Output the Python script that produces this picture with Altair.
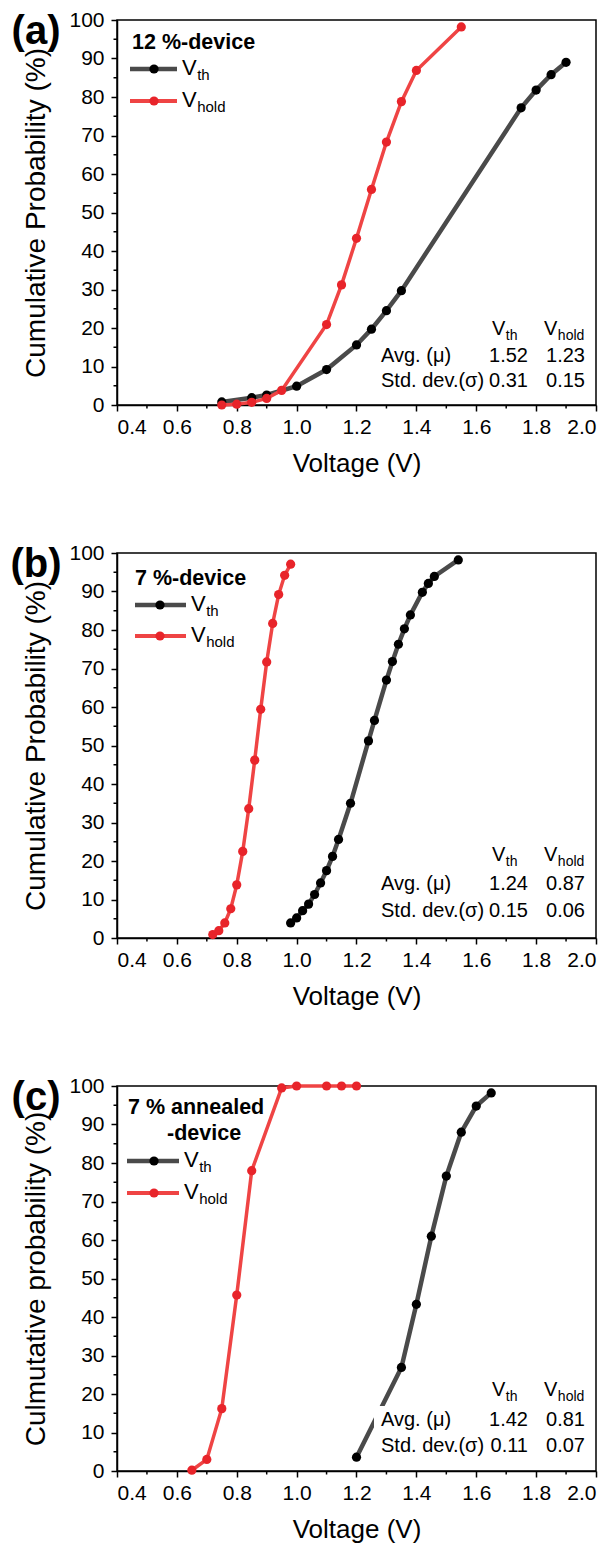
import altair as alt
import pandas as pd

# ---------------- data ----------------
a_vth_v = [0.75, 0.85, 0.90, 1.00, 1.10, 1.20, 1.25, 1.30, 1.35, 1.75, 1.80, 1.85, 1.90]
a_vth_p = [0.8, 1.9, 2.6, 4.9, 9.2, 15.6, 19.7, 24.5, 29.7, 77.2, 81.8, 85.8, 89.0]
a_vhold_v = [0.75, 0.80, 0.85, 0.90, 0.95, 1.10, 1.15, 1.20, 1.25, 1.30, 1.35, 1.40, 1.55]
a_vhold_p = [0.0, 0.2, 0.7, 1.7, 3.8, 20.9, 31.2, 43.3, 56.0, 68.3, 78.8, 86.9, 98.2]

b_vth_v = [0.98, 1.00, 1.02, 1.04, 1.06, 1.08, 1.10, 1.12, 1.14, 1.18, 1.24, 1.26, 1.30,
           1.32, 1.34, 1.36, 1.38, 1.42, 1.44, 1.46, 1.54]
b_vth_p = [3.9, 5.2, 7.1, 8.8, 11.3, 14.3, 17.5, 21.2, 25.6, 35.0, 51.2, 56.5, 67.0,
           71.8, 76.3, 80.3, 83.9, 89.8, 92.1, 93.9, 98.2]
b_vhold_v = [0.72, 0.74, 0.76, 0.78, 0.80, 0.82, 0.84, 0.86, 0.88, 0.90, 0.92, 0.94, 0.96, 0.98]
b_vhold_p = [0.9, 1.9, 3.9, 7.6, 13.8, 22.5, 33.6, 46.2, 59.4, 71.7, 81.7, 89.2, 94.2, 97.1]

c_vth_v = [1.20, 1.35, 1.40, 1.45, 1.50, 1.55, 1.60, 1.65]
c_vth_p = [3.6, 26.9, 43.3, 61.0, 76.6, 88.0, 94.8, 98.2]
c_vhold_v = [0.65, 0.70, 0.75, 0.80, 0.85, 0.95, 1.00, 1.10, 1.15, 1.20]
c_vhold_p = [0.2, 3.0, 16.2, 45.7, 78.0, 99.5, 100, 100, 100, 100]

panel_letters = ["(a)", "(b)", "(c)"]
device_labels = [["12 %-device"], ["7 %-device"], ["7 % annealed", "-device"]]
y_titles = ["Cumulative Probability (%)", "Cumulative Probability (%)",
            "Culmutative probability (%)"]
avg_vals = [(1.52, 1.23), (1.24, 0.87), (1.42, 0.81)]
std_vals = [(0.31, 0.15), (0.15, 0.06), (0.11, 0.07)]

x_ticks = [0.4, 0.6, 0.8, 1.0, 1.2, 1.4, 1.6, 1.8, 2.0]
x_minor = [0.5, 0.7, 0.9, 1.1, 1.3, 1.5, 1.7, 1.9]
y_ticks = [0, 10, 20, 30, 40, 50, 60, 70, 80, 90, 100]
y_minor = [5, 15, 25, 35, 45, 55, 65, 75, 85, 95]

# ---------------- style ----------------
W, H = 479, 385
FONT = "Liberation Sans"
BLACK_LINE = "#4a4a4a"
BLACK_PT = "#000000"
RED_LINE = "#ef4444"
RED_PT = "#e8242a"
PT_SIZE = 85


def sub_text(x, y, main, sub, size=21, subsize=14):
    vw = 0.667 * size
    return [
        alt.Chart().mark_text(text=main, font=FONT, fontSize=size, align="left",
                              baseline="middle", color="black")
        .encode(x=alt.value(x), y=alt.value(y)),
        alt.Chart().mark_text(text=sub, font=FONT, fontSize=subsize, align="left",
                              baseline="middle", color="black")
        .encode(x=alt.value(x + vw + 0.5), y=alt.value(y + 7)),
    ]


def panel(i, vth_v, vth_p, vh_v, vh_p, leg, tab, box=False):
    xs = alt.Scale(domain=[0.4, 2.0], nice=False, zero=False)
    ys = alt.Scale(domain=[0, 100], nice=False)
    xaxis = alt.Axis(values=x_ticks, format=".1f", title="Voltage (V)",
                     titleFontSize=26, titlePadding=13, grid=False)
    yaxis = alt.Axis(values=y_ticks, format="d", title=y_titles[i],
                     titleFontSize=28, titlePadding=18, labelPadding=7, grid=False)
    X = alt.X("V:Q", scale=xs, axis=xaxis)
    Y = alt.Y("P:Q", scale=ys, axis=yaxis)

    dth = pd.DataFrame({"V": vth_v, "P": vth_p})
    dh = pd.DataFrame({"V": vh_v, "P": vh_p})
    layers = [
        alt.Chart(dth).mark_line(color=BLACK_LINE, strokeWidth=4.5).encode(x=X, y=Y),
        alt.Chart(dth).mark_point(filled=True, opacity=1, color=BLACK_PT, size=PT_SIZE).encode(x=X, y=Y),
        alt.Chart(dh).mark_line(color=RED_LINE, strokeWidth=3.5).encode(x=X, y=Y),
        alt.Chart(dh).mark_point(filled=True, opacity=1, color=RED_PT, size=PT_SIZE).encode(x=X, y=Y),
        # minor ticks
        alt.Chart(pd.DataFrame({"V": x_minor})).mark_rule(color="black", strokeWidth=1.5)
        .encode(x=X, y=alt.value(H), y2=alt.value(H + 3.5)),
        alt.Chart(pd.DataFrame({"P": y_minor})).mark_rule(color="black", strokeWidth=1.5)
        .encode(y=Y, x=alt.value(0), x2=alt.value(-3.5)),
    ]

    # legend
    for txt, tx, ty, al in leg["title"]:
        layers.append(alt.Chart().mark_text(text=txt, font=FONT, fontSize=21.5, fontWeight="bold",
                                            align=al, baseline="middle", color="black")
                      .encode(x=alt.value(tx), y=alt.value(ty)))
    lx0, lx1, px, vx = leg["x"]
    for yy, lc, pc, lw, sub in [(leg["y"][0], BLACK_LINE, BLACK_PT, 4.5, "th"),
                                (leg["y"][1], RED_LINE, RED_PT, 4.0, "hold")]:
        layers.append(alt.Chart().mark_rule(color=lc, strokeWidth=lw)
                      .encode(x=alt.value(lx0), x2=alt.value(lx1), y=alt.value(yy)))
        layers.append(alt.Chart().mark_point(filled=True, opacity=1, color=pc, size=PT_SIZE)
                      .encode(x=alt.value(px), y=alt.value(yy)))
        layers += sub_text(vx, yy - 1, "V", sub, size=22, subsize=15)

    if box:
        layers.append(alt.Chart().mark_rect(color="white")
                      .encode(x=alt.value(257), x2=alt.value(474),
                              y=alt.value(tab[1] - 14), y2=alt.value(tab[2] + 12)))

    # stats table
    hy, ay, sy = tab
    layers += sub_text(375, hy, "V", "th", size=20, subsize=14)
    layers += sub_text(427, hy, "V", "hold", size=20, subsize=14)
    for txt, yy in [("Avg. (\u03bc)", ay), ("Std. dev.(\u03c3)", sy)]:
        layers.append(alt.Chart().mark_text(text=txt, font=FONT, fontSize=20, align="left",
                                            baseline="middle", color="black")
                      .encode(x=alt.value(264), y=alt.value(yy)))
    for vals, yy in [(avg_vals[i], ay), (std_vals[i], sy)]:
        for val, xr in zip(vals, (411, 468)):
            layers.append(alt.Chart().mark_text(text=f"{val:.2f}", font=FONT, fontSize=20,
                                                align="right", baseline="middle", color="black")
                          .encode(x=alt.value(xr), y=alt.value(yy)))

    # panel letter
    layers.append(alt.Chart().mark_text(text=panel_letters[i], font=FONT, fontSize=40,
                                        fontWeight="bold", align="center", baseline="middle",
                                        color="black")
                  .encode(x=alt.value(-81), y=alt.value(12)))

    return alt.layer(*layers).properties(width=W, height=H)


pa = panel(0, a_vth_v, a_vth_p, a_vhold_v, a_vhold_p,
           {"title": [(device_labels[0][0], 15, 23, "left")], "x": (13, 60, 37, 65), "y": (49, 81)},
           (309, 336, 361))
pb = panel(1, b_vth_v, b_vth_p, b_vhold_v, b_vhold_p,
           {"title": [(device_labels[1][0], 18, 26, "left")], "x": (18, 69, 43, 74), "y": (52, 83)},
           (302, 331, 358))
pc = panel(2, c_vth_v, c_vth_p, c_vhold_v, c_vhold_p,
           {"title": [(device_labels[2][0], 11, 22, "left"), (device_labels[2][1], 50, 48, "left")],
            "x": (10, 62, 37, 67), "y": (75, 107)},
           (304, 334, 360), box=True)

top = alt.vconcat(pa, pb, spacing=64)
chart = alt.vconcat(top, pc, spacing=64).properties(
    padding={"left": 1, "top": 0, "right": 0, "bottom": 0},
    background="white"
).configure_view(
    stroke="black", strokeWidth=1.5
).configure_axis(
    domainColor="black", domainWidth=1.5, tickColor="black", tickWidth=1.5, tickSize=6,
    labelFontSize=21, labelColor="black", labelFont=FONT, titleFont=FONT,
    titleFontWeight="normal", titleColor="black", grid=False, labelPadding=5
)

chart.save("out.html", embed_options={"renderer": "svg", "actions": False})
